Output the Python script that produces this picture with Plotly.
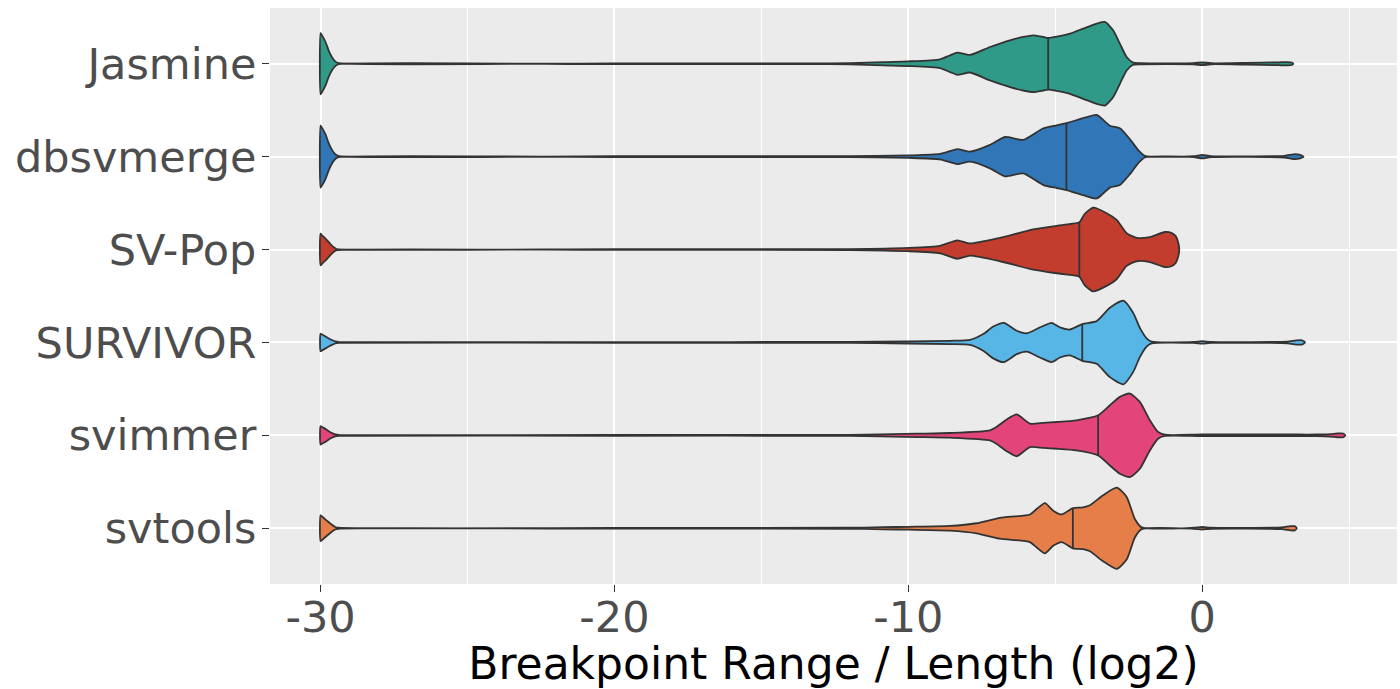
import numpy as np
import plotly.graph_objects as go

# Tools, top to bottom
tools = ["Jasmine", "dbsvmerge", "SV-Pop", "SURVIVOR", "svimmer", "svtools"]

fill_colors = ["#2F9A88", "#3176B6", "#C23D2D", "#58B6E7", "#E3457B", "#E67E4A"]

# Density profiles (normalised so that each violin's peak = 1) along log2(range/length)
jasmine_x = [-30, -29.97, -29.83, -29.72, -29.6, -29.49, -29.38, -20, -13, -12, -10.85, -10, -8.92, -8.58,
             -8.33, -7.9, -7.22, -6.54, -6.09, -5.75, -5.4, -5.24, -4.95, -4.5, -4.05, -3.59, -3.31, -3.03,
             -2.8, -2.57, -2.35, -2.1, -0.3, 0.0, 0.3, 1.5, 2.6, 2.9, 3.05, 3.1]
jasmine_d = [0.73, 0.70, 0.52, 0.31, 0.145, 0.05, 0.012, 0.01, 0.01, 0.012, 0.04, 0.056, 0.105, 0.2,
             0.265, 0.21, 0.40, 0.56, 0.64, 0.68, 0.64, 0.62, 0.65, 0.72, 0.84, 0.96, 1.0, 0.80,
             0.48, 0.16, 0.025, 0.012, 0.012, 0.035, 0.012, 0.02, 0.035, 0.04, 0.03, 0.0]

dbsvmerge_x = [-30, -29.97, -29.83, -29.72, -29.6, -29.49, -29.38, -20, -12, -10, -8.92, -8.33, -7.9,
               -7.22, -6.71, -6.09, -5.4, -4.95, -4.62, -4.05, -3.59, -3.14, -2.8, -2.46, -2.18, -1.95,
               -0.3, 0.0, 0.3, 2.8, 3.1, 3.3, 3.45]
dbsvmerge_d = [0.74, 0.71, 0.53, 0.32, 0.15, 0.05, 0.012, 0.01, 0.012, 0.03, 0.065, 0.18, 0.12,
               0.28, 0.47, 0.40, 0.68, 0.75, 0.80, 0.92, 1.0, 0.74, 0.68, 0.42, 0.16, 0.02,
               0.012, 0.04, 0.012, 0.02, 0.056, 0.05, 0.0]

svpop_x = [-30, -29.95, -29.8, -29.65, -29.5, -29.45, -20, -12, -10, -8.92, -8.33, -7.9, -6.88, -5.75,
           -4.73, -4.18, -4.0, -3.71, -3.25, -2.91, -2.57, -2.23, -1.78, -1.27, -1.05, -0.9, -0.82, -0.78]
svpop_d = [0.38, 0.34, 0.24, 0.12, 0.03, 0.012, 0.01, 0.012, 0.04, 0.09, 0.22, 0.145, 0.28, 0.48,
           0.59, 0.65, 0.85, 1.0, 0.87, 0.71, 0.39, 0.28, 0.30, 0.42, 0.40, 0.32, 0.18, 0.0]

survivor_x = [-30, -29.95, -29.8, -29.65, -29.5, -29.38, -20, -12, -10, -8.58, -7.9, -7.45, -7.11, -6.75,
              -6.31, -5.97, -5.52, -5.12, -4.84, -4.5, -4.08, -3.59, -3.14, -2.68, -2.35, -2.12, -1.89,
              -1.72, -0.3, 0.0, 0.3, 2.9, 3.2, 3.4, 3.5]
survivor_d = [0.21, 0.19, 0.13, 0.07, 0.025, 0.012, 0.01, 0.012, 0.025, 0.04, 0.06, 0.20, 0.38, 0.47,
              0.28, 0.22, 0.36, 0.47, 0.36, 0.31, 0.44, 0.51, 0.83, 1.0, 0.71, 0.35, 0.10,
              0.02, 0.012, 0.03, 0.012, 0.02, 0.05, 0.05, 0.0]

svimmer_x = [-30, -29.95, -29.8, -29.65, -29.5, -29.38, -20, -12, -9.72, -8.58, -7.22, -7.0, -6.65, -6.31,
             -5.86, -5.4, -4.95, -4.28, -3.54, -3.14, -2.8, -2.46, -2.12, -1.78, -1.5, -1.27, 0.0, 3.3,
             3.9, 4.35, 4.6, 4.8, 4.87]
svimmer_d = [0.22, 0.20, 0.14, 0.07, 0.025, 0.012, 0.01, 0.012, 0.04, 0.056, 0.12, 0.20, 0.38, 0.50,
             0.28, 0.30, 0.32, 0.36, 0.48, 0.72, 0.92, 1.0, 0.80, 0.36, 0.08, 0.015, 0.02, 0.02,
             0.02, 0.03, 0.045, 0.045, 0.0]

svtools_x = [-30, -29.95, -29.8, -29.65, -29.5, -29.4, -20, -12, -10.85, -10, -8.58, -7.68, -6.88, -5.86,
             -5.63, -5.35, -5.07, -4.78, -4.4, -4.05, -3.82, -3.37, -2.91, -2.57, -2.29, -2.06, -0.3, 0.0,
             0.3, 2.7, 3.0, 3.15, 3.22]
svtools_d = [0.31, 0.28, 0.19, 0.10, 0.03, 0.012, 0.01, 0.012, 0.025, 0.035, 0.056, 0.12, 0.25, 0.33,
             0.46, 0.60, 0.42, 0.33, 0.48, 0.50, 0.55, 0.79, 0.97, 0.75, 0.22, 0.02, 0.012, 0.03,
             0.012, 0.02, 0.05, 0.05, 0.0]

profiles_x = [jasmine_x, dbsvmerge_x, svpop_x, survivor_x, svimmer_x, svtools_x]
profiles_d = [jasmine_d, dbsvmerge_d, svpop_d, survivor_d, svimmer_d, svtools_d]

# Median of each distribution
medians = [-5.24, -4.62, -4.18, -4.08, -3.54, -4.40]

# x-axis ticks (hyphen-minus labels)
x_ticks = [-30, -20, -10, 0]
x_tick_labels = ["-30", "-20", "-10", "0"]

HALF_WIDTH = 0.45  # violin peak half-width, in category units
OUTLINE = "#333333"
LINE_W = 1.8

fig = go.Figure()

for i, name in enumerate(tools):
    xs = np.asarray(profiles_x[i], dtype=float)
    ds = np.asarray(profiles_d[i], dtype=float)
    hw = HALF_WIDTH * ds
    # closed outline: upper edge left->right, lower edge right->left
    px = np.concatenate([xs, xs[::-1][1:], xs[:1]])
    py = np.concatenate([i - hw, (i + hw)[::-1][1:], [i - hw[0]]])
    fig.add_trace(go.Scatter(
        x=px, y=py, mode="lines", fill="toself",
        fillcolor=fill_colors[i],
        line=dict(color=OUTLINE, width=LINE_W, shape="spline", smoothing=0.6),
        name=name, showlegend=False, hoverinfo="skip",
    ))
    # median line across the violin
    m = medians[i]
    mh = HALF_WIDTH * np.interp(m, xs, ds)
    fig.add_trace(go.Scatter(
        x=[m, m], y=[i - mh, i + mh], mode="lines",
        line=dict(color=OUTLINE, width=LINE_W),
        showlegend=False, hoverinfo="skip",
    ))

tick_font = dict(family="DejaVu Sans", size=43, color="#4D4D4D")

fig.update_layout(
    width=1400, height=689,
    margin=dict(l=270, r=3, t=8, b=105),
    paper_bgcolor="white",
    plot_bgcolor="#EBEBEB",
    xaxis=dict(
        range=[-31.72, 6.63],
        tickvals=x_ticks, ticktext=x_tick_labels,
        ticks="outside", ticklen=7, tickwidth=1.4, tickcolor=OUTLINE,
        tickfont=tick_font, ticklabelstandoff=-12,
        showgrid=True, gridcolor="white", gridwidth=2,
        minor=dict(dtick=5, tick0=0, showgrid=True, gridcolor="white", gridwidth=1),
        zeroline=False, showline=False, automargin=False,
        title=dict(text="Breakpoint Range / Length (log2)",
                   font=dict(family="DejaVu Sans", size=44, color="black"),
                   standoff=0),
    ),
    yaxis=dict(
        range=[5.6, -0.6],
        tickvals=list(range(len(tools))),
        ticktext=tools,
        ticks="outside", ticklen=7, tickwidth=1.4, tickcolor=OUTLINE,
        tickfont=tick_font, ticklabelstandoff=-3,
        showgrid=True, gridcolor="white", gridwidth=2,
        zeroline=False, showline=False, automargin=False,
    ),
)

fig.write_html("out.html")
